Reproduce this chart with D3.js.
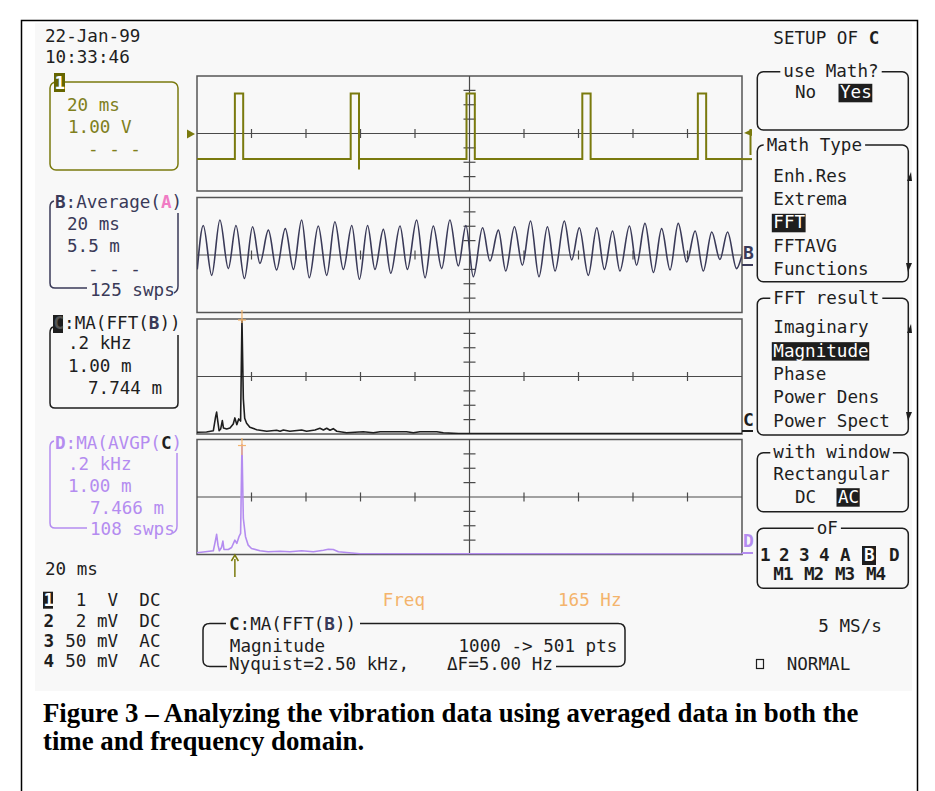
<!DOCTYPE html>
<html>
<head>
<meta charset="utf-8">
<script src="https://cdn.jsdelivr.net/npm/d3@7"></script>
<style>
  body { margin: 0; background: #fff; }
  text { font-family: "DejaVu Sans Mono", monospace; font-size: 17.6px; white-space: pre; }
</style>
</head>
<body>
<script>
// ---- data ----
// channel 1: trigger pulses (ms, V)
var pulseStart = [13.9, 56.4, 98.9, 141.4, 183.8];
var pulseWidth = 3.05;
var pulseHigh = 2.78;
var pulseLow = -1.78;
var undershoot = { t: 59.45, v: -2.5 };

// trace B: averaged vibration signal, peaks and troughs (ms, mV)
var bTime = [0.1, 2.3, 5.4, 8.4, 11.5, 14.3, 17.4, 20.4, 23.1, 26.2, 29.2, 32.4, 35.4, 38.4, 41.2, 44.5,
  47.6, 50.6, 53.7, 56.8, 59.6, 62.6, 65.3, 68.4, 71.1, 74.5, 77.2, 80.6, 83.7, 86.7, 89.8, 92.8, 95.9,
  98.7, 101.4, 104.8, 107.5, 110.6, 113.3, 116.5, 119.4, 122.4, 125.5, 128.6, 131.4, 134.8, 137.5, 140.3,
  143.6, 146.7, 149.5, 152.5, 155.2, 158.7, 161.3, 164.4, 167.5, 170.5, 173.6, 176.6, 179.7, 182.8, 185.8,
  188.9, 191.9, 194.7, 198.0, 199.9];
var bVolt = [-5.5, 11.3, -7.8, 13.4, -5.2, 11.3, -9.0, 10.8, -3.2, 9.5, -5.7, 10.1, -5.5, 13.4, -8.7, 11.1,
  -7.8, 12.7, -5.5, 11.3, -9.3, 11.3, -5.5, 9.8, -7.0, 11.1, -5.5, 13.4, -8.7, 11.1, -5.2, 13.4, -4.2,
  11.3, -8.3, 10.4, -2.3, 9.5, -6.1, 10.8, -3.9, 13.0, -8.3, 10.8, -6.1, 13.0, -1.9, 10.4,
  -7.8, 10.4, -5.5, 9.2, -6.1, 11.1, -3.9, 12.1, -6.7, 10.1, -5.7, 12.1, -2.7, 9.2, -6.1,
  8.8, -1.7, 8.8, -5.2, -0.4];

// trace C: FFT magnitude of B (Hz, mV)
var cFreq = [0, 35, 60, 68, 72, 76, 81, 87, 93, 97, 109, 121, 133, 139, 146, 153, 160, 165, 170, 175, 182,
  194, 219, 256, 292, 305, 317, 341, 384, 402, 433, 451, 464, 476, 488, 500, 513, 549, 610, 647, 672, 769,
  794, 818, 880, 904, 960, 2000];
var cMag = [0.12, 0.14, 0.23, 1.17, 1.52, 0.93, 0.23, 0.35, 0.93, 0.42, 0.35, 0.42, 0.70, 1.12, 0.65, 1.05,
  0.90, 8.0, 2.45, 1.1, 0.75, 0.47, 0.30, 0.19, 0.26, 0.19, 0.28, 0.19, 0.28, 0.19, 0.28, 0.40, 0.28, 0.40,
  0.26, 0.37, 0.19, 0.09, 0.16, 0.09, 0.16, 0.16, 0.09, 0.16, 0.16, 0.09, 0.03, 0.03];

// trace D: averaged power spectrum (Hz, mV)
var dFreq = [0, 60, 68, 72, 77, 82, 90, 95, 99, 115, 127, 139, 146, 154, 160, 165, 170, 178, 188, 200, 231,
  261, 305, 341, 384, 427, 464, 482, 500, 519, 598, 2000];
var dMag = [0.12, 0.26, 1.0, 1.40, 0.65, 0.26, 0.49, 0.93, 0.35, 0.35, 0.49, 1.0, 0.77, 1.24, 1.47, 7.65,
  2.52, 1.24, 0.65, 0.42, 0.26, 0.19, 0.23, 0.19, 0.26, 0.19, 0.30, 0.37, 0.35, 0.19, 0.05, 0.03];

var cursorFreq = 165;
var timeDomain = [0, 200];     // 10 div x 20 ms
var freqDomain = [0, 2000];    // 10 div x .2 kHz
var voltDomain = [-4, 4];      // 8 div x 1 V
var bDomain = [-22, 22];       // 8 div x 5.5 mV
var magDomain = [0, 8];        // 8 div x 1 mV

// ---- layout ----
var W = 935, H = 791;
var gLeft = 197, gRight = 742, panelH = 115;
var panelTop = [76, 197.5, 319, 439.5];

var olive = "#7a7a0e", oliveText = "#80801c", navy = "#3a3a58", dark = "#1e1e1e",
    lav = "#b48cf0", pink = "#f07cc4", orange = "#f4b46c", grid = "#4a4a4a";

var svg = d3.select("body").append("svg")
    .attr("width", W)
    .attr("height", H);

svg.append("rect").attr("width", W).attr("height", H).attr("fill", "#fff");

// scope screen + outer frame
svg.append("rect").attr("x", 35).attr("y", 23).attr("width", 877).attr("height", 668).attr("fill", "#f8f8f8");
svg.append("path")
    .attr("d", "M21.5,800 L21.5,20.5 L917.5,20.5 L917.5,800")
    .attr("fill", "none").attr("stroke", "#000").attr("stroke-width", 1.5);

function txt(x, y, s, color, bold) {
    return svg.append("text")
        .attr("x", x).attr("y", y)
        .attr("fill", color || dark)
        .attr("font-weight", bold ? "bold" : null)
        .attr("xml:space", "preserve")
        .text(s);
}

function spans(x, y, parts) {
    var t = svg.append("text").attr("x", x).attr("y", y).attr("xml:space", "preserve");
    parts.forEach(function(p) {
        t.append("tspan")
            .attr("fill", p[1])
            .attr("font-weight", p[2] ? "bold" : null)
            .text(p[0]);
    });
    return t;
}

function inv(x, y, s, bg, fg, w) {
    svg.append("rect").attr("x", x - 1.5).attr("y", y - 14.5).attr("width", w || s.length * 10.6 + 2)
        .attr("height", 18.5).attr("fill", bg);
    txt(x, y, s, fg, false);
}

// ---- panels ----
var xTime = d3.scaleLinear().domain(timeDomain).range([gLeft, gRight]);
var xFreq = d3.scaleLinear().domain(freqDomain).range([gLeft, gRight]);
var yScales = [voltDomain, bDomain, magDomain, magDomain].map(function(dom, i) {
    return d3.scaleLinear().domain(dom).range([panelTop[i] + panelH, panelTop[i]]);
});

var divX = d3.range(1, 10).filter(function(d) { return d != 5; });
var divY = d3.range(1, 8).filter(function(d) { return d != 4; });
var cx = (gLeft + gRight) / 2;
var divW = (gRight - gLeft) / 10, divH = panelH / 8;

panelTop.forEach(function(top, i) {
    var g = svg.append("g");
    var cy = top + panelH / 2;

    g.append("clipPath").attr("id", "clip" + i)
        .append("rect").attr("x", gLeft).attr("y", top).attr("width", gRight - gLeft).attr("height", panelH);

    g.append("rect")
        .attr("x", gLeft).attr("y", top)
        .attr("width", gRight - gLeft).attr("height", panelH)
        .attr("fill", "none").attr("stroke", "#555").attr("stroke-width", 1.5);

    g.append("line").attr("x1", gLeft).attr("x2", gRight).attr("y1", cy).attr("y2", cy)
        .attr("stroke", grid).attr("stroke-width", 1.2);
    g.append("line").attr("x1", cx).attr("x2", cx).attr("y1", top).attr("y2", top + panelH)
        .attr("stroke", grid).attr("stroke-width", 1.2);

    g.selectAll(".tx").data(divX).enter().append("line")
        .attr("x1", function(d) { return gLeft + d * divW; })
        .attr("x2", function(d) { return gLeft + d * divW; })
        .attr("y1", cy - 4.5).attr("y2", cy + 4.5)
        .attr("stroke", grid).attr("stroke-width", 1.2);

    g.selectAll(".ty").data(divY).enter().append("line")
        .attr("x1", cx - 6).attr("x2", cx + 6)
        .attr("y1", function(d) { return top + d * divH; })
        .attr("y2", function(d) { return top + d * divH; })
        .attr("stroke", grid).attr("stroke-width", 1.2);
});

// channel 1 trace
var ch1 = [[timeDomain[0], pulseLow]];
pulseStart.forEach(function(t) {
    ch1.push([t, pulseLow], [t, pulseHigh], [t + pulseWidth, pulseHigh], [t + pulseWidth, pulseLow]);
    if (Math.abs(t + pulseWidth - undershoot.t) < 0.5) {
        ch1.push([undershoot.t, undershoot.v], [undershoot.t, pulseLow]);
    }
});
ch1.push([timeDomain[1], pulseLow]);

var line1 = d3.line()
    .x(function(d) { return xTime(d[0]); })
    .y(function(d) { return yScales[0](d[1]); });

svg.append("path").datum(ch1)
    .attr("d", line1)
    .attr("fill", "none").attr("stroke", olive).attr("stroke-width", 2)
    .attr("clip-path", "url(#clip0)");

// trace B
var lineB = d3.line()
    .x(function(d, i) { return xTime(bTime[i]); })
    .y(function(d) { return yScales[1](d); })
    .curve(d3.curveMonotoneX);

svg.append("path").datum(bVolt)
    .attr("d", lineB)
    .attr("fill", "none").attr("stroke", navy).attr("stroke-width", 1.6)
    .attr("clip-path", "url(#clip1)");

// traces C and D
function spectrum(freq, mag, ys, color, clip) {
    var l = d3.line()
        .x(function(d, i) { return xFreq(freq[i]); })
        .y(function(d) { return ys(d); });
    svg.append("path").datum(mag)
        .attr("d", l)
        .attr("fill", "none").attr("stroke", color).attr("stroke-width", 1.6)
        .attr("stroke-linejoin", "round")
        .attr("clip-path", clip);
}
spectrum(cFreq, cMag, yScales[2], dark, "url(#clip2)");
spectrum(dFreq, dMag, yScales[3], lav, "url(#clip3)");

// frequency cursor marks on the peaks
[[cFreq, cMag, yScales[2], 310, 323], [dFreq, dMag, yScales[3], 438, 455]].forEach(function(s) {
    var px = xFreq(cursorFreq);
    var py = s[2](s[1][s[0].indexOf(cursorFreq)]);
    svg.append("line").attr("x1", px).attr("x2", px).attr("y1", s[3]).attr("y2", s[4])
        .attr("stroke", orange).attr("stroke-width", 1.2);
    svg.append("line").attr("x1", px - 4).attr("x2", px + 4).attr("y1", py + 1).attr("y2", py + 1)
        .attr("stroke", orange).attr("stroke-width", 1.2);
});

// trigger marks
var trigX = xTime(pulseStart[0]);
svg.append("path")
    .attr("d", "M" + trigX + ",577 L" + trigX + ",559 M" + (trigX - 3.5) + ",561 L" + trigX + ",555 L" + (trigX + 3.5) + ",561")
    .attr("fill", "none").attr("stroke", olive).attr("stroke-width", 1.5);
svg.append("path")
    .attr("d", "M187,129.5 L195,134 L187,138.5 Z").attr("fill", olive);

// trace markers at right edge of grid
svg.append("path").attr("d", "M752,129 L744,133 L752,136 Z").attr("fill", olive);
svg.append("line").attr("x1", 750.5).attr("x2", 750.5).attr("y1", 129).attr("y2", 155).attr("stroke", olive).attr("stroke-width", 2);
svg.append("line").attr("x1", 742).attr("x2", 752).attr("y1", yScales[0](pulseLow)).attr("y2", yScales[0](pulseLow)).attr("stroke", olive).attr("stroke-width", 2);
txt(743, 259, "B", navy, true).style("font-size", "18px");
svg.append("line").attr("x1", 742).attr("x2", 753).attr("y1", 265).attr("y2", 265).attr("stroke", navy).attr("stroke-width", 2);
txt(743, 426, "C", dark, true).style("font-size", "18px");
svg.append("line").attr("x1", 742).attr("x2", 753).attr("y1", 431).attr("y2", 431).attr("stroke", dark).attr("stroke-width", 2);
txt(743, 547, "D", lav, true).style("font-size", "18px");
svg.append("line").attr("x1", 742).attr("x2", 753).attr("y1", 553).attr("y2", 553).attr("stroke", lav).attr("stroke-width", 2);

// ---- left column ----
txt(45, 41.7, "22-Jan-99", dark);
txt(45, 62.7, "10:33:46", dark);

// channel 1 box
svg.append("rect").attr("x", 50).attr("y", 82).attr("width", 128).attr("height", 88).attr("rx", 6)
    .attr("fill", "none").attr("stroke", olive).attr("stroke-width", 1.5);
svg.append("rect").attr("x", 54).attr("y", 73).attr("width", 11).attr("height", 19).attr("fill", "#666600");
txt(54.5, 89, "1", "#fff", true);
txt(67, 110.7, "20 ms", oliveText);
txt(68, 132.7, "1.00 V", oliveText);
txt(88, 155, "- - -", oliveText);

// B box
spans(55, 208, [["B", navy, true], [":Average(", navy], ["A", pink, true], [")", navy]]);
txt(67, 230, "20 ms", navy);
txt(67, 252, "5.5 m", navy);
txt(88, 275, "- - -", navy);
txt(90, 296, "125 swps", navy);
svg.append("path").attr("d", "M54,201 Q50,202 50,207 L50,283 Q50,288 55,288 L87,288 M178,213 L178,286 Q178,291 174,293")
    .attr("fill", "none").attr("stroke", navy).attr("stroke-width", 1.5);

// C box
svg.append("rect").attr("x", 53).attr("y", 315).attr("width", 10).attr("height", 18).attr("fill", dark);
spans(53.5, 329, [["C", "#555", true], [":MA(FFT(", dark], ["B", navy, true], ["))", dark]]);
txt(68, 349.3, ".2 kHz", dark);
txt(68, 371.7, "1.00 m", dark);
txt(88, 394, "7.744 m", dark);
svg.append("path").attr("d", "M53,327 Q50,328 50,333 L50,403 Q50,408 55,408 L173,408 Q178,408 178,403 L178,335")
    .attr("fill", "none").attr("stroke", dark).attr("stroke-width", 1.5);

// D box
spans(55, 449, [["D", lav, true], [":MA(AVGP(", lav], ["C", dark, true], [")", lav]]);
txt(68, 470, ".2 kHz", lav);
txt(68, 491.7, "1.00 m", lav);
txt(90, 514, "7.466 m", lav);
txt(90, 535, "108 swps", lav);
svg.append("path").attr("d", "M54,441 Q50,442 50,447 L50,523 Q50,528 55,528 L87,528 M177,453 L177,526 Q177,531 173,533")
    .attr("fill", "none").attr("stroke", lav).attr("stroke-width", 1.5);

txt(45, 575, "20 ms", dark);

// channel settings list
var chanDigits = ["1", "2", "3", "4"];
var chanSettings = ["  1  V  DC", "  2 mV  DC", " 50 mV  AC", " 50 mV  AC"];
var rowY = [605.7, 627.3, 646.7, 666.7];
chanDigits.forEach(function(d, i) {
    if (i == 0) {
        svg.append("rect").attr("x", 43).attr("y", rowY[i] - 14).attr("width", 10).attr("height", 17).attr("fill", dark);
        txt(43.5, rowY[i], d, "#fff", true);
    } else {
        txt(43.5, rowY[i], d, dark, true);
    }
    txt(54.6, rowY[i], chanSettings[i], dark);
});

// ---- bottom centre ----
txt(382.7, 605.7, "Freq", orange);
txt(558, 605.7, cursorFreq + " Hz", orange);
spans(229, 630, [["C", dark, true], [":MA(FFT(", dark], ["B", navy, true], ["))", dark]]);
txt(229.8, 651.7, "Magnitude", dark);
txt(458.5, 651.7, "1000 -> 501 pts", dark);
txt(229, 670, "Nyquist=2.50 kHz,", dark);
txt(447, 670, "\u0394F=5.00 Hz", dark);
svg.append("path")
    .attr("d", "M226,623.5 L210,623.5 Q203,623.5 203,630 L203,660 Q203,666.5 210,666.5 L227,666.5 " +
               "M360,623.5 L618,623.5 Q625,623.5 625,630 L625,660 Q625,666.5 618,666.5 L556,666.5")
    .attr("fill", "none").attr("stroke", dark).attr("stroke-width", 1.5);

// ---- right menu ----
function menuBox(y, h, label, lx) {
    svg.append("rect").attr("x", 757.3).attr("y", y).attr("width", 151).attr("height", h).attr("rx", 6)
        .attr("fill", "none").attr("stroke", dark).attr("stroke-width", 1.5);
    svg.append("rect").attr("x", lx - 3).attr("y", y - 3).attr("width", label.length * 10.6 + 6).attr("height", 6)
        .attr("fill", "#f8f8f8");
    txt(lx, y + 5.5, label, dark);
}

spans(773.3, 44, [["SETUP OF ", dark], ["C", dark, true]]);

menuBox(71.7, 58.3, "use Math?", 783.3);
txt(795, 98.3, "No", dark);
inv(840, 98.3, "Yes", dark, "#fff");

var mathTypes = ["Enh.Res", "Extrema", "FFT", "FFTAVG", "Functions"];
menuBox(145, 136.7, "Math Type", 766.7);
mathTypes.forEach(function(s, i) {
    var y = 181.7 + i * 23.3;
    if (s == "FFT") inv(773.3, y, s, dark, "#fff");
    else txt(773.3, y, s, dark);
});

var fftResults = ["Imaginary", "Magnitude", "Phase", "Power Dens", "Power Spect"];
menuBox(298.3, 136.7, "FFT result", 773.3);
fftResults.forEach(function(s, i) {
    var y = 333.3 + i * 23.35;
    if (s == "Magnitude") inv(773.3, y, s, dark, "#fff");
    else txt(773.3, y, s, dark);
});

// scroll arrows
[[172, 263], [324, 412]].forEach(function(p) {
    svg.append("path").attr("d", "M907," + (p[0] + 9) + " L912," + (p[0] + 9) + " L911," + p[0] + " Z").attr("fill", dark);
    svg.append("path").attr("d", "M906," + p[1] + " L912," + p[1] + " L908," + (p[1] + 9) + " Z").attr("fill", dark);
});

menuBox(452.7, 59, "with window", 773.3);
txt(773.3, 480, "Rectangular", dark);
txt(795, 502.7, "DC", dark);
inv(838, 502.7, "AC", dark, "#fff");

var sources = ["1", "2", "3", "4", "A", "B", "D"];
var sourceX = [760, 779, 799, 819, 840, 864, 889];
var mathSlots = ["M1", "M2", "M3", "M4"];
var mathX = [773.3, 804, 835, 866];
menuBox(528.3, 60, "oF", 816.7);
sources.forEach(function(s, i) {
    if (s == "B") {
        svg.append("rect").attr("x", sourceX[i] - 2).attr("y", 546).attr("width", 14).attr("height", 19).attr("fill", dark);
        txt(sourceX[i], 561, s, "#fff", true);
    } else {
        txt(sourceX[i], 561, s, dark, true);
    }
});
mathSlots.forEach(function(s, i) {
    txt(mathX[i], 580, s, dark, true).attr("letter-spacing", "-1");
});

txt(818.3, 631.7, "5 MS/s", dark);
svg.append("rect").attr("x", 756.5).attr("y", 659.5).attr("width", 7).attr("height", 9)
    .attr("fill", "none").attr("stroke", dark).attr("stroke-width", 1.2);
txt(786.7, 670, "NORMAL", dark);

// ---- caption ----
svg.append("text")
    .attr("x", 43).attr("y", 722)
    .style("font-family", "'Liberation Serif', 'Times New Roman', serif")
    .style("font-size", "26.8px").style("font-weight", "bold")
    .text("Figure 3 \u2013 Analyzing the vibration data using averaged data in both the");
svg.append("text")
    .attr("x", 43).attr("y", 750)
    .style("font-family", "'Liberation Serif', 'Times New Roman', serif")
    .style("font-size", "26.8px").style("font-weight", "bold")
    .text("time and frequency domain.");
</script>
</body>
</html>
